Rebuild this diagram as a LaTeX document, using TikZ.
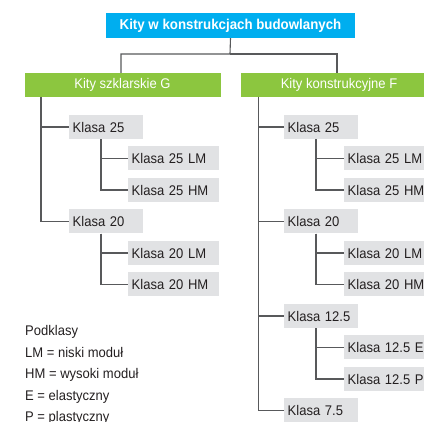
\documentclass[tikz,border=0pt]{standalone}
\usepackage{fontspec}
\setmainfont{Liberation Sans}[FakeStretch=0.93]
\usetikzlibrary{calc}
\definecolor{kitblue}{HTML}{00AEEF}
\definecolor{kitgreen}{HTML}{8CC63F}
\definecolor{kitgrey}{HTML}{E1E2E4}
\definecolor{kitline}{HTML}{58595B}
\definecolor{kittext}{HTML}{231F20}
\tikzset{
  head/.style={fill=kitblue,text=white,font=\fontsize{14.3}{16}\selectfont\bfseries,minimum width=249pt,minimum height=25pt,inner sep=0pt},
  group/.style={fill=kitgreen,text=white,minimum width=196pt,minimum height=24pt,inner sep=0pt},
  klasa/.style={fill=kitgrey,text=kittext,anchor=west,text width=67pt,align=left,inner xsep=3.5pt,inner ysep=0pt,minimum height=24pt},
  podklasa/.style={klasa,text width=84pt},
  link/.style={draw=kitline,line width=1.1pt},
}
\begin{document}
\begin{tikzpicture}[x=1pt,y=-1pt,font=\fontsize{14}{16}\selectfont]
\useasboundingbox (0,0) rectangle (424,422);
\clip (0,0) rectangle (424,422);

% heads
\node[head] (top) at (230.5,25.5) {Kity w konstrukcjach budowlanych};
\node[group] (gl) at (122.5,85) {Kity szklarskie G};
\node[group] (gr) at (339,85) {Kity konstrukcyjne F};

\coordinate (bus) at (230,54);
\draw[link] (top.south) -- (bus) -| ($(gl.north)+(-1.5,0)$);
\draw[link] (bus) -| ($(gr.north)+(-2,0)$);

% left column
\begin{scope}
\node[klasa] (gk25) at (69,127) {Klasa 25};
\node[podklasa] (gk25lm) at (128,158.5) {Klasa 25 LM};
\node[podklasa] (gk25hm) at (128,190) {Klasa 25 HM};
\node[klasa] (gk20) at (69,221.5) {Klasa 20};
\node[podklasa] (gk20lm) at (128,253) {Klasa 20 LM};
\node[podklasa] (gk20hm) at (128,284.5) {Klasa 20 HM};

\coordinate (glt) at (41,97);
\draw[link] (glt) |- (gk25.west);
\draw[link] (glt) |- (gk20.west);
\end{scope}

% right column
\begin{scope}
\node[klasa] (fk25) at (284,127) {Klasa 25};
\node[podklasa] (fk25lm) at (344,158.5) {Klasa 25 LM};
\node[podklasa] (fk25hm) at (344,190) {Klasa 25 HM};
\node[klasa] (fk20) at (284,221.5) {Klasa 20};
\node[podklasa] (fk20lm) at (344,253) {Klasa 20 LM};
\node[podklasa] (fk20hm) at (344,284.5) {Klasa 20 HM};
\node[klasa] (fk125) at (284,316) {Klasa 12.5};
\node[podklasa] (fk125e) at (344,347.5) {Klasa 12.5 E};
\node[podklasa] (fk125p) at (344,379) {Klasa 12.5 P};
\node[klasa] (fk75) at (284,410.5) {Klasa 7.5};

\coordinate (grt) at (258.5,97);
\foreach \c in {fk25,fk20,fk125,fk75}
  \draw[link] (grt) |- (\c.west);
\end{scope}

% sub branches
\foreach \p/\c in {gk25/gk25lm,gk25/gk25hm,gk20/gk20lm,gk20/gk20hm,fk25/fk25lm,fk25/fk25hm,fk20/fk20lm,fk20/fk20hm,fk125/fk125e,fk125/fk125p}
  \draw[link] ($(\p.south west)+(32,0)$) |- (\c.west);

% legend
\foreach \t [count=\i] in {Podklasy,LM = niski moduł,HM = wysoki moduł,E = elastyczny,P = plastyczny}
  \node[anchor=base west,inner sep=0pt,text=kittext] (leg\i) at (25,{336+21.5*(\i-1)}) {\t};

\end{tikzpicture}
\end{document}
